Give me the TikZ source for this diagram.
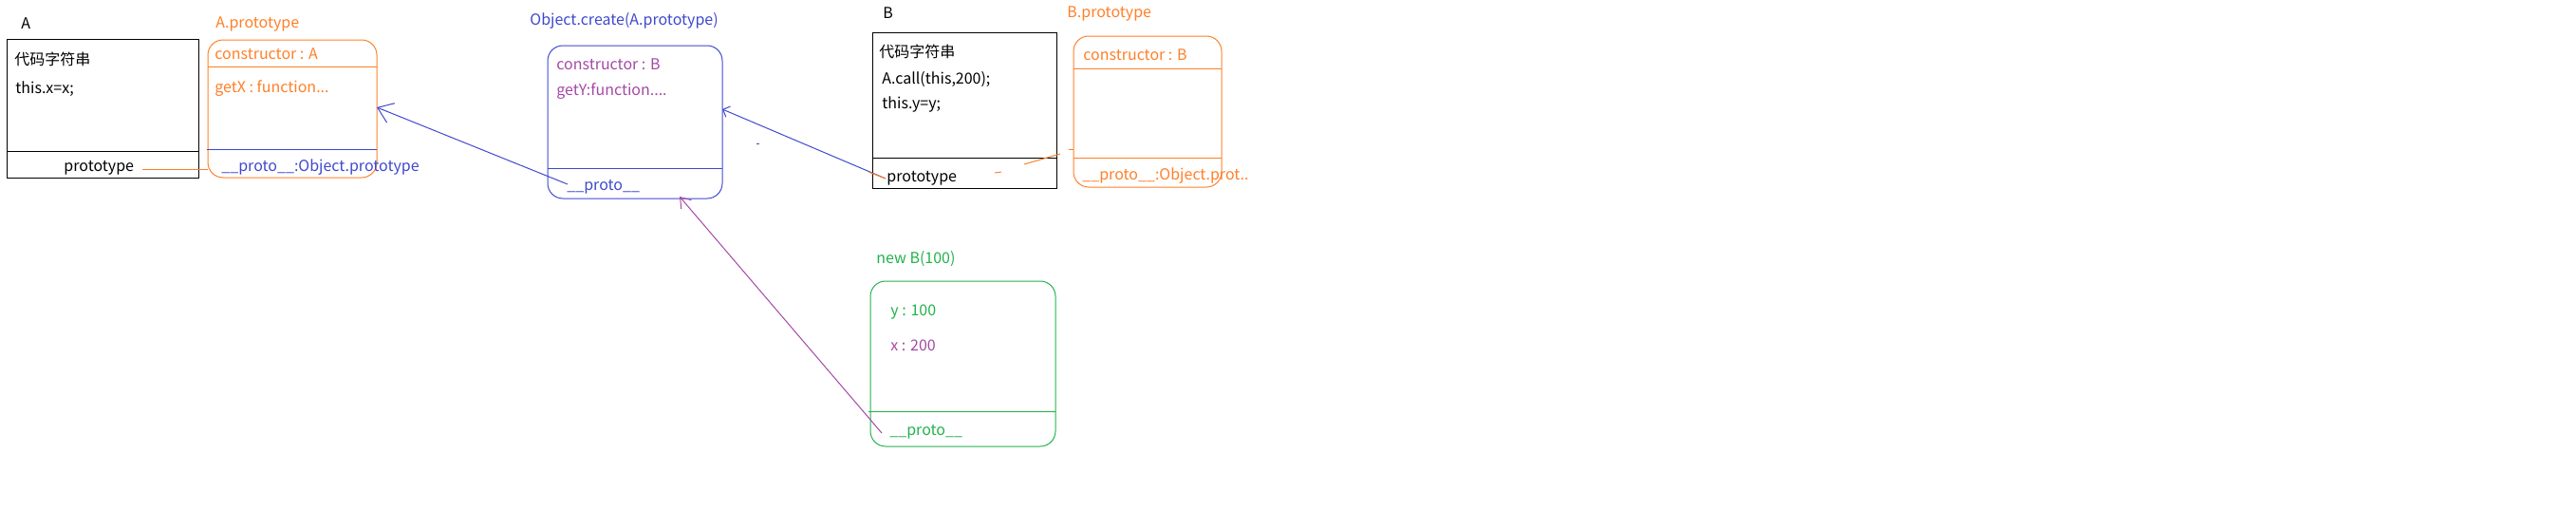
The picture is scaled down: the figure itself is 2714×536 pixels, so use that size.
\documentclass[tikz,border=0pt]{standalone}
\usepackage{fontspec}
\setmainfont{Noto Sans CJK SC}
\usetikzlibrary{arrows.meta}
\definecolor{porange}{RGB}{255,127,39}
\definecolor{pblue}{RGB}{63,72,204}
\definecolor{pgreen}{RGB}{34,177,76}
\definecolor{ppurple}{RGB}{163,73,164}
\tikzset{
  box/.style={draw, inner sep=0pt, outer sep=0pt, anchor=north west, line width=0.5pt},
  rbox/.style={box, rounded corners=8pt},
  txt/.style={inner sep=0pt, anchor=base west, font=\fontsize{8}{10}\selectfont},
  thin line/.style={line width=0.5pt},
  bigtip/.style={-{Straight Barb[length=7.5pt,width=11pt,line width=0.5pt]}},
  smalltip/.style={-{Straight Barb[length=3pt,width=6pt,line width=0.5pt]}},
  midtip/.style={-{Straight Barb[length=5pt,width=7pt,line width=0.5pt]}},
}
\begin{document}
\begin{tikzpicture}[x=0.5pt,y=-0.5pt]
\useasboundingbox (0,0) rectangle (2714,536);
% ---------- A ----------
\node[box, minimum width=101pt, minimum height=73pt] (A) at (7,41) {};
\draw[thin line] (A.west |- 0,159) -- (A.east |- 0,159);
\node[txt] (Alab) at (22,30) {A};
\node[txt] (Acode) at (15,68) {代码字符串};
\node[txt] (Athis) at (16,98) {this.x=x;};
\node[txt] (Aproto) at (67,180) {prototype};
% ---------- A.prototype ----------
\node[rbox, draw=porange, minimum width=89pt, minimum height=72.5pt] (Ap) at (219,42) {};
\draw[thin line, porange] (Ap.west |- 0,70) -- (Ap.east |- 0,70);
\draw[thin line, pblue] ([xshift=-0.5pt]Ap.west |- 0,157) -- (Ap.east |- 0,157);
\node[txt, text=porange] (Aplab) at (227,29) {A.prototype};
\node[txt, text=porange] (Apc) at (226,62) {constructor : A};
\node[txt, text=porange] (Apg) at (226,97) {getX : function...};
\node[txt, text=pblue] (App) at (233,180) {\_\_proto\_\_:Object.prototype};
\draw[thin line, porange] (150,178) -- (Ap.west |- 0,178);
% ---------- Object.create ----------
\node[rbox, draw=pblue, minimum width=92pt, minimum height=80.5pt] (O) at (577,48) {};
\draw[thin line, pblue] (O.west |- 0,177) -- (O.east |- 0,177);
\node[txt, text=pblue] (Olab) at (558,26) {Object.create(A.prototype)};
\node[txt, text=ppurple] (Oc) at (586,73) {constructor : B};
\node[txt, text=ppurple] (Og) at (586,100) {getY:function....};
\node[txt, text=pblue] (Op) at (597,200) {\_\_proto\_\_};
% ---------- B ----------
\node[box, minimum width=97pt, minimum height=82pt] (B) at (919,34) {};
\draw[thin line] (B.west |- 0,166) -- (B.east |- 0,166);
\node[txt] (Blab) at (930,19) {B};
\node[txt] (Bcode) at (926,60) {代码字符串};
\node[txt] (Bcall) at (929,88) {A.call(this,200);};
\node[txt] (Bthis) at (929,114) {this.y=y;};
\node[txt] (Bproto) at (934,191) {prototype};
% ---------- B.prototype ----------
\node[rbox, draw=porange, minimum width=78pt, minimum height=79.5pt] (Bp) at (1131,38) {};
\draw[thin line, porange] (Bp.west |- 0,72) -- (Bp.east |- 0,72);
\draw[thin line, porange] (Bp.west |- 0,166) -- (Bp.east |- 0,166);
\node[txt, text=porange] (Bplab) at (1124,18) {B.prototype};
\node[txt, text=porange] (Bpc) at (1141,63) {constructor : B};
\node[txt, text=porange] (Bpp) at (1140,189) {\_\_proto\_\_:Object.prot..};
% ---------- new B(100) ----------
\node[rbox, draw=pgreen, minimum width=97.5pt, minimum height=87pt] (N) at (917,296) {};
\draw[thin line, pgreen] ([xshift=-1pt]N.west |- 0,433) -- (N.east |- 0,433);
\node[txt, text=pgreen] (Nlab) at (923,277) {new B(100)};
\node[txt, text=pgreen] (Ny) at (938,332) {y : 100};
\node[txt, text=ppurple] (Nx) at (938,369) {x : 200};
\node[txt, text=pgreen] (Np) at (937,458) {\_\_proto\_\_};
% ---------- connectors ----------
\coordinate (c1s) at (598,194);
\coordinate (c2s) at (933,188);
\coordinate (c3s) at (929,456);
\draw[thin line, pblue, bigtip] (c1s) -- (Ap.east |- 0,113);
\draw[thin line, pblue, smalltip] (c2s) -- (O.east |- 0,115);
\draw[thin line, ppurple, midtip] (c3s) -- (716,207);
% orange fragments of erased line B.prototype link
\draw[thin line, porange] (915,181) -- (c2s);
\draw[thin line, porange] (1048,182) -- (1055,181);
\draw[thin line, porange] (1079,173) -- (1117,162);
\draw[thin line, porange] (1126,157) -- (Bp.west |- 0,157);
% stray blue dot
\draw[thin line, pblue] (797,151) -- (800,151);
\end{tikzpicture}
\end{document}
